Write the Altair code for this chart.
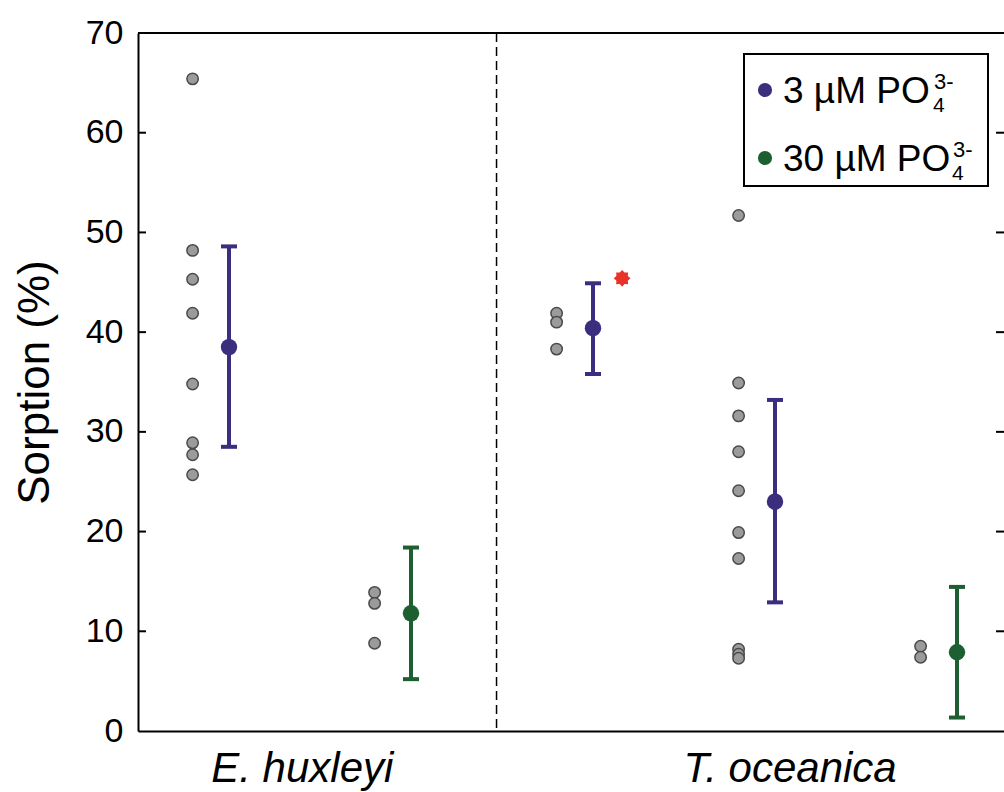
import math
import altair as alt
import pandas as pd

# ---------------- data ----------------
group_pos = [1, 2, 3, 4, 5]
treatment = ["3 µM", "30 µM", "3 µM", "3 µM", "30 µM"]
means = [38.5, 11.8, 40.4, 23.0, 7.9]
lower = [28.5, 5.2, 35.8, 12.9, 1.35]
upper = [48.6, 18.4, 44.9, 33.2, 14.45]
raw_points = [
    [65.4, 48.2, 45.3, 41.9, 34.8, 28.9, 27.7, 25.7],
    [13.9, 12.8, 8.8],
    [41.9, 41.0, 38.3],
    [51.7, 34.9, 31.6, 28.0, 24.1, 19.9, 17.3, 8.2, 7.7, 7.3],
    [8.5, 7.4],
]
outlier_group = 3
outlier_value = 45.4
species_labels = ["E. huxleyi", "T. oceanica"]
species_pos = [1.5, 4.18]
divider_pos = 2.57
y_ticks = [0, 10, 20, 30, 40, 50, 60, 70]
legend_main = ["3 µM PO", "30 µM PO"]
legend_colors = ["#3b2e7e", "#1e5f31"]

# ---------------- layout ----------------
W, H = 866, 698
PX_PER_UNIT = 182
xscale = alt.Scale(domain=[0.6, 0.6 + W / PX_PER_UNIT], nice=False, zero=False)
yscale = alt.Scale(domain=[0, 70], nice=False, zero=False)
color_scale = alt.Scale(domain=["3 µM", "30 µM"], range=legend_colors)
FONT = "Liberation Sans"

label_expr = "datum.value < {} ? '{}' : '{}'".format(divider_pos, species_labels[0], species_labels[1])
xaxis = alt.Axis(values=species_pos, labelExpr=label_expr, labelFontStyle="italic",
                 labelFontSize=42, labelFont=FONT, labelColor="black", ticks=False, tickSize=0,
                 labelPadding=17, domain=True, domainColor="black", domainWidth=2,
                 grid=False, title=None, labelFlush=False, labelOverlap=False, labelLimit=500)
yaxis = alt.Axis(values=y_ticks, orient="left", domain=True, domainColor="black", domainWidth=2,
                 ticks=False, tickSize=0, labelFontSize=34, labelFont=FONT, labelColor="black",
                 labelPadding=15, grid=False, title="Sorption (%)", titleFontSize=44,
                 titleFont=FONT, titleFontWeight="normal", titleColor="black", titlePadding=28,
                 labelFlush=False, labelOverlap=False, labelLimit=500)


def X(field):
    return alt.X(field, type="quantitative", scale=xscale, axis=xaxis)


def Y(field):
    return alt.Y(field, type="quantitative", scale=yscale, axis=yaxis)


pts = pd.DataFrame(
    [{"x": g - 0.1, "y": v} for g, vals in zip(group_pos, raw_points) for v in vals]
)
summ = pd.DataFrame({
    "x": [g + 0.1 for g in group_pos],
    "y": means, "lower": lower, "upper": upper, "treat": treatment,
})
star_df = pd.DataFrame({"x": [outlier_group + 0.26], "y": [outlier_value]})
div_df = pd.DataFrame({"x": [divider_pos]})
tick_df = pd.DataFrame({"y": y_ticks[1:-1]})
one = pd.DataFrame({"a": [0]})

col = alt.Color("treat:N", scale=color_scale, legend=None)

gray = alt.Chart(pts).mark_circle(size=130, fill="#9b9b9b", stroke="#4a4a4a", strokeWidth=1.5,
                                  opacity=1, fillOpacity=1).encode(x=X("x"), y=Y("y"))

divider = alt.Chart(div_df).mark_rule(color="black", strokeWidth=1.5, strokeDash=[9, 5]).encode(x=X("x"))

bars = alt.Chart(summ).mark_rule(strokeWidth=4).encode(x=X("x"), y=Y("lower"), y2="upper", color=col)
cap_lo = alt.Chart(summ).mark_tick(orient="horizontal", size=16, thickness=4, opacity=1).encode(
    x=X("x"), y=Y("lower"), color=col)
cap_hi = alt.Chart(summ).mark_tick(orient="horizontal", size=16, thickness=4, opacity=1).encode(
    x=X("x"), y=Y("upper"), color=col)
mean_pts = alt.Chart(summ).mark_circle(size=270, opacity=1).encode(x=X("x"), y=Y("y"), color=col)

# 8-pointed star shape for the outlier
pts_star = []
for k in range(16):
    a = k * math.pi / 8
    r = 1.0 if k % 2 == 0 else 0.74
    pts_star.append("{:.3f},{:.3f}".format(r * math.cos(a), r * math.sin(a)))
star_path = "M" + " L".join(pts_star) + " Z"
star = alt.Chart(star_df).mark_point(shape=star_path, size=280, filled=True, color="#e8332b",
                                     opacity=1).encode(x=X("x"), y=Y("y"))

# inward ticks on left and right
lticks = alt.Chart(tick_df).mark_rule(color="black", strokeWidth=2).encode(
    y=Y("y"), x=alt.value(0), x2=alt.value(8))
rticks = alt.Chart(tick_df).mark_rule(color="black", strokeWidth=2).encode(
    y=Y("y"), x=alt.value(W - 8), x2=alt.value(W))
top_border = alt.Chart(one).mark_rule(color="black", strokeWidth=2).encode(
    x=alt.value(0), x2=alt.value(W), y=alt.value(0))

# legend (drawn manually for sub/superscripts)
LX0, LX1, LY0, LY1 = 606, 850, 21, 153
legend_layers = [
    alt.Chart(one).mark_rect(fill="white", stroke="black", strokeWidth=2).encode(
        x=alt.value(LX0), x2=alt.value(LX1), y=alt.value(LY0), y2=alt.value(LY1))
]
row_y = [57, 125]
main_w = [149, 168]
for i in range(2):
    legend_layers.append(alt.Chart(one).mark_circle(size=200, color=legend_colors[i], opacity=1).encode(
        x=alt.value(627), y=alt.value(row_y[i])))
    legend_layers.append(alt.Chart(one).mark_text(text=legend_main[i], align="left", baseline="alphabetic",
                                                  fontSize=37, font=FONT, color="black").encode(
        x=alt.value(645), y=alt.value(row_y[i] + 13)))
    legend_layers.append(alt.Chart(one).mark_text(text="4", align="left", baseline="alphabetic",
                                                  fontSize=21, font=FONT, color="black").encode(
        x=alt.value(645 + main_w[i] + 1), y=alt.value(row_y[i] + 22)))
    legend_layers.append(alt.Chart(one).mark_text(text="3-", align="left", baseline="alphabetic",
                                                  fontSize=22, font=FONT, color="black").encode(
        x=alt.value(645 + main_w[i] + 2), y=alt.value(row_y[i] - 1)))

chart = alt.layer(
    gray, divider, bars, cap_lo, cap_hi, mean_pts, star, lticks, rticks, top_border, *legend_layers
).properties(
    width=W, height=H,
    autosize=alt.AutoSizeParams(type="none"),
    padding={"left": 138, "top": 33, "right": 0, "bottom": 61},
    background="white",
).configure_view(stroke=None)

chart.save("out.html", embed_options={"renderer": "svg", "actions": False})
